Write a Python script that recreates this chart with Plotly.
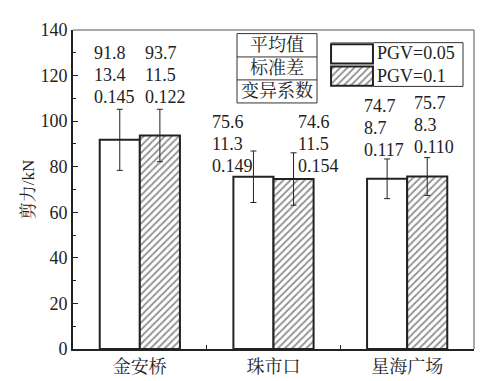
import plotly.graph_objects as go

# ---------------- data ----------------
categories = ["金安桥", "珠市口", "星海广场"]
series_names = ["PGV=0.05", "PGV=0.1"]
mean_005 = [91.8, 75.6, 74.7]
std_005 = [13.4, 11.3, 8.7]
cv_005 = [0.145, 0.149, 0.117]
mean_01 = [93.7, 74.6, 75.7]
std_01 = [11.5, 11.5, 8.3]
cv_01 = [0.122, 0.154, 0.110]
y_ticks = [0, 20, 40, 60, 80, 100, 120, 140]
stat_names = ["平均值", "标准差", "变异系数"]

# ---------------- layout helpers ----------------
FONT = "Liberation Serif, Noto Serif CJK SC, Noto Sans CJK SC, serif"
L, R, T, B = 65, 17, 19, 34
W, H = 483, 381
PW, PH = W - L - R, H - T - B


def px2paper(x, y):
    return (x - L) / PW, (H - B - y) / PH


# label anchor positions (layout only): left x (category units), first line y (value units)
label_x_005 = [-0.358, 0.523, 1.662]
label_x_01 = [0.024, 1.168, 2.036]
label_y_005 = [129.8, 99.6, 106.6]
label_y_01 = [129.8, 99.6, 108.0]
LINE_STEP = 9.7

HATCH = dict(shape="/", fgcolor="#222", bgcolor="white", size=5, solidity=0.35)

fig = go.Figure()
fig.add_trace(go.Bar(
    x=categories, y=mean_005, name=series_names[0],
    marker=dict(color="white", line=dict(color="#222", width=2)),
    error_y=dict(type="data", array=std_005, color="#222", thickness=1, width=3),
    showlegend=False,
))
fig.add_trace(go.Bar(
    x=categories, y=mean_01, name=series_names[1],
    marker=dict(color="white", line=dict(color="#222", width=2), pattern=HATCH),
    error_y=dict(type="data", array=std_01, color="#222", thickness=1, width=3),
    showlegend=False,
))

annotations = []
for i in range(len(categories)):
    for xs, ys, m, s, c in [(label_x_005, label_y_005, mean_005, std_005, cv_005),
                            (label_x_01, label_y_01, mean_01, std_01, cv_01)]:
        texts = [f"{m[i]:.1f}", f"{s[i]:.1f}", f"{c[i]:.3f}"]
        for k, t in enumerate(texts):
            annotations.append(dict(
                x=xs[i], y=ys[i] - k * LINE_STEP, xref="x", yref="y", text=t,
                showarrow=False, xanchor="left", yanchor="middle",
                font=dict(family=FONT, size=18, color="#222")))

shapes = []
# frame: thin top and right edges
shapes.append(dict(type="line", xref="paper", yref="paper", x0=0, x1=1, y0=1, y1=1,
                   line=dict(color="#555", width=1)))
shapes.append(dict(type="line", xref="paper", yref="paper", x0=1, x1=1, y0=0, y1=1,
                   line=dict(color="#555", width=1)))

# statistic table box
tb_x0, tb_x1 = 229, 309
tb_rows = [22.7, 46.7, 70.3, 94]
a0, b0 = px2paper(tb_x0, tb_rows[0])
a1, b1 = px2paper(tb_x1, tb_rows[-1])
shapes.append(dict(type="rect", xref="paper", yref="paper", x0=a0, x1=a1, y0=b1, y1=b0,
                   line=dict(color="#333", width=1), fillcolor="white", layer="above"))
for r in tb_rows[1:-1]:
    _, yy = px2paper(0, r)
    shapes.append(dict(type="line", xref="paper", yref="paper", x0=a0, x1=a1, y0=yy, y1=yy,
                       line=dict(color="#333", width=1)))
for k, name in enumerate(stat_names):
    cx, cy = px2paper((tb_x0 + tb_x1) / 2, (tb_rows[k] + tb_rows[k + 1]) / 2)
    annotations.append(dict(x=cx, y=cy, xref="paper", yref="paper", text=name, showarrow=False,
                            xanchor="center", yanchor="middle",
                            font=dict(family=FONT, size=18, color="#222")))

# legend box
lg_x0, lg_y0, lg_x1, lg_y1 = 323, 32, 455, 77
a0, b0 = px2paper(lg_x0, lg_y0)
a1, b1 = px2paper(lg_x1, lg_y1)
shapes.append(dict(type="rect", xref="paper", yref="paper", x0=a0, x1=a1, y0=b1, y1=b0,
                   line=dict(color="#333", width=1), fillcolor="white", layer="below"))
for k, nm in enumerate(series_names):
    tx, ty = px2paper(367, 43 + k * 23)
    annotations.append(dict(x=tx, y=ty, xref="paper", yref="paper", text=nm, showarrow=False,
                            xanchor="left", yanchor="middle",
                            font=dict(family=FONT, size=18, color="#222")))

# legend swatches on an overlay axis
sx0, sy0 = px2paper(322, 32)
sx1, sy1 = px2paper(366, 78)
fig.add_trace(go.Bar(
    x=[1], y=[1], orientation="h", width=0.86, xaxis="x2", yaxis="y2",
    marker=dict(color="white", line=dict(color="#222", width=2)), showlegend=False, hoverinfo="skip"))
fig.add_trace(go.Bar(
    x=[1], y=[0], orientation="h", width=0.86, xaxis="x2", yaxis="y2",
    marker=dict(color="white", line=dict(color="#222", width=2), pattern=HATCH),
    showlegend=False, hoverinfo="skip"))

fig.update_layout(
    width=W, height=H,
    margin=dict(l=L, r=R, t=T, b=B),
    paper_bgcolor="white", plot_bgcolor="white",
    barmode="group", bargap=0.4, bargroupgap=0,
    font=dict(family=FONT, size=18, color="#222"),
    xaxis=dict(range=[-0.5, 2.5], showgrid=False, showline=True, linecolor="#222", linewidth=2,
               ticks="", tickfont=dict(size=18), zeroline=False,
               minor=dict(tickvals=[0.5, 1.5], ticks="inside", ticklen=4, tickcolor="#222")),
    yaxis=dict(range=[0, 140], tickvals=y_ticks, showgrid=False, showline=True, linecolor="#222",
               linewidth=2, ticks="inside", ticklen=5, tickcolor="#222", zeroline=False,
               tickfont=dict(size=18),
               minor=dict(dtick=10, ticks="inside", ticklen=3, tickcolor="#222"),
               title=dict(text="剪力/kN", font=dict(size=17), standoff=1)),
    xaxis2=dict(domain=[sx0, sx1], range=[-0.025, 1.025], visible=False, fixedrange=True, anchor="y2"),
    yaxis2=dict(domain=[sy1, sy0], range=[-0.5, 1.5], visible=False, fixedrange=True, anchor="x2"),
    shapes=shapes, annotations=annotations,
)

fig.write_html("out.html")
